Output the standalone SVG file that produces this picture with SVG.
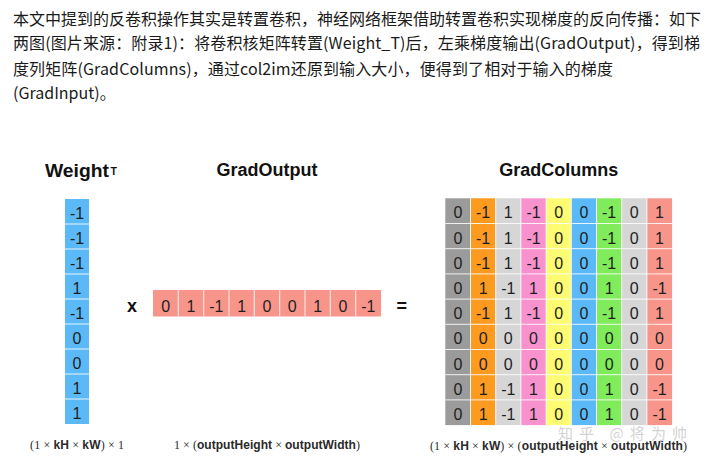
<svg xmlns="http://www.w3.org/2000/svg" width="711" height="472" viewBox="0 0 711 472">
<style>
.para{font-family:"Noto Sans CJK SC","Liberation Sans",sans-serif;font-size:16px;fill:#1a1a1a}
.title{font-family:"Liberation Sans",Arial,sans-serif;font-size:18px;font-weight:bold;fill:#111}
.num{font-family:"Liberation Sans",Arial,sans-serif;font-size:16px;fill:#1e1e1e;text-anchor:middle}
.op{font-family:"Liberation Sans",Arial,sans-serif;font-size:18px;font-weight:bold;fill:#111;text-anchor:middle}
.lab{font-family:"Liberation Serif","Times New Roman",serif;font-size:12px;fill:#2a2a2a}
.b{font-family:"Liberation Sans",Arial,sans-serif;font-weight:bold}
.sep{stroke:#fff;stroke-width:1;stroke-opacity:0.85}
.wm{font-family:"Noto Sans CJK SC",sans-serif;font-size:15px;fill:#c4c4c4;fill-opacity:0.75}
</style>
<rect width="711" height="472" fill="#fff"/>
<g id="paragraph">
<text class="para" x="13" y="25" textLength="688" lengthAdjust="spacing">本文中提到的反卷积操作其实是转置卷积，神经网络框架借助转置卷积实现梯度的反向传播：如下</text>
<text class="para" x="13" y="48.5" textLength="687" lengthAdjust="spacing">两图(图片来源：附录1)：将卷积核矩阵转置(Weight_T)后，左乘梯度输出(GradOutput)，得到梯</text>
<text class="para" x="13" y="74.5" textLength="600" lengthAdjust="spacing">度列矩阵(GradColumns)，通过col2im还原到输入大小，便得到了相对于输入的梯度</text>
<text class="para" x="13" y="99">(GradInput)。</text>
</g>
<g id="weight">
<text class="title" x="45" y="176.5" textLength="64" lengthAdjust="spacingAndGlyphs">Weight</text>
<text class="title" x="110.5" y="174.5" style="font-size:10.5px">T</text>
<rect x="65" y="199" width="24" height="225" fill="#5ab9f6"/>
<g class="sep">
<line x1="65" y1="224" x2="89" y2="224"/><line x1="65" y1="249" x2="89" y2="249"/><line x1="65" y1="274" x2="89" y2="274"/><line x1="65" y1="299" x2="89" y2="299"/><line x1="65" y1="324" x2="89" y2="324"/><line x1="65" y1="349" x2="89" y2="349"/><line x1="65" y1="374" x2="89" y2="374"/><line x1="65" y1="399" x2="89" y2="399"/>
</g>
<text class="num" x="77" y="219">-1</text>
<text class="num" x="77" y="244">-1</text>
<text class="num" x="77" y="269">-1</text>
<text class="num" x="77" y="294">1</text>
<text class="num" x="77" y="319">-1</text>
<text class="num" x="77" y="344">0</text>
<text class="num" x="77" y="369">0</text>
<text class="num" x="77" y="394">1</text>
<text class="num" x="77" y="419">1</text>
</g>
<g id="op-times"><text class="op" x="132" y="312">x</text></g>
<g id="gradoutput">
<text class="title" x="267" y="176" text-anchor="middle">GradOutput</text>
<rect x="153" y="290" width="228" height="26.5" fill="#f8958b"/>
<g class="sep">
<line x1="178.3" y1="290" x2="178.3" y2="316.5"/><line x1="203.7" y1="290" x2="203.7" y2="316.5"/><line x1="229" y1="290" x2="229" y2="316.5"/><line x1="254.3" y1="290" x2="254.3" y2="316.5"/><line x1="279.7" y1="290" x2="279.7" y2="316.5"/><line x1="305" y1="290" x2="305" y2="316.5"/><line x1="330.3" y1="290" x2="330.3" y2="316.5"/><line x1="355.7" y1="290" x2="355.7" y2="316.5"/>
</g>
<text class="num" y="311.5"><tspan x="165.7">0</tspan><tspan x="191">1</tspan><tspan x="216.3">-1</tspan><tspan x="241.7">1</tspan><tspan x="267">0</tspan><tspan x="292.3">0</tspan><tspan x="317.7">1</tspan><tspan x="343">0</tspan><tspan x="368.3">-1</tspan></text>
</g>
<g id="op-equals"><text class="op" x="401.7" y="312">=</text></g>
<g id="gradcolumns">
<text class="title" x="558.7" y="176" text-anchor="middle">GradColumns</text>
<rect x="445.3" y="198.3" width="25.2" height="226.8" fill="#9b9b9b"/>
<rect x="470.5" y="198.3" width="25.2" height="226.8" fill="#fd9b20"/>
<rect x="495.7" y="198.3" width="25.2" height="226.8" fill="#d6d6d6"/>
<rect x="520.9" y="198.3" width="25.2" height="226.8" fill="#f892cf"/>
<rect x="546.1" y="198.3" width="25.2" height="226.8" fill="#fdfc72"/>
<rect x="571.3" y="198.3" width="25.2" height="226.8" fill="#5ab9f6"/>
<rect x="596.5" y="198.3" width="25.2" height="226.8" fill="#80ec5c"/>
<rect x="621.7" y="198.3" width="25.2" height="226.8" fill="#d6d6d6"/>
<rect x="646.9" y="198.3" width="25.2" height="226.8" fill="#f8958b"/>
<g class="sep">
<line x1="445.3" y1="223.5" x2="672.1" y2="223.5"/><line x1="445.3" y1="248.7" x2="672.1" y2="248.7"/><line x1="445.3" y1="273.9" x2="672.1" y2="273.9"/><line x1="445.3" y1="299.1" x2="672.1" y2="299.1"/><line x1="445.3" y1="324.3" x2="672.1" y2="324.3"/><line x1="445.3" y1="349.5" x2="672.1" y2="349.5"/><line x1="445.3" y1="374.7" x2="672.1" y2="374.7"/><line x1="445.3" y1="399.9" x2="672.1" y2="399.9"/>
<line x1="470.5" y1="198.3" x2="470.5" y2="425.1"/><line x1="495.7" y1="198.3" x2="495.7" y2="425.1"/><line x1="520.9" y1="198.3" x2="520.9" y2="425.1"/><line x1="546.1" y1="198.3" x2="546.1" y2="425.1"/><line x1="571.3" y1="198.3" x2="571.3" y2="425.1"/><line x1="596.5" y1="198.3" x2="596.5" y2="425.1"/><line x1="621.7" y1="198.3" x2="621.7" y2="425.1"/><line x1="646.9" y1="198.3" x2="646.9" y2="425.1"/>
</g>
<text class="num" y="218.3"><tspan x="457.9">0</tspan><tspan x="483.1">-1</tspan><tspan x="508.3">1</tspan><tspan x="533.5">-1</tspan><tspan x="558.7">0</tspan><tspan x="583.9">0</tspan><tspan x="609.1">-1</tspan><tspan x="634.3">0</tspan><tspan x="659.5">1</tspan></text>
<text class="num" y="243.5"><tspan x="457.9">0</tspan><tspan x="483.1">-1</tspan><tspan x="508.3">1</tspan><tspan x="533.5">-1</tspan><tspan x="558.7">0</tspan><tspan x="583.9">0</tspan><tspan x="609.1">-1</tspan><tspan x="634.3">0</tspan><tspan x="659.5">1</tspan></text>
<text class="num" y="268.7"><tspan x="457.9">0</tspan><tspan x="483.1">-1</tspan><tspan x="508.3">1</tspan><tspan x="533.5">-1</tspan><tspan x="558.7">0</tspan><tspan x="583.9">0</tspan><tspan x="609.1">-1</tspan><tspan x="634.3">0</tspan><tspan x="659.5">1</tspan></text>
<text class="num" y="293.9"><tspan x="457.9">0</tspan><tspan x="483.1">1</tspan><tspan x="508.3">-1</tspan><tspan x="533.5">1</tspan><tspan x="558.7">0</tspan><tspan x="583.9">0</tspan><tspan x="609.1">1</tspan><tspan x="634.3">0</tspan><tspan x="659.5">-1</tspan></text>
<text class="num" y="319.1"><tspan x="457.9">0</tspan><tspan x="483.1">-1</tspan><tspan x="508.3">1</tspan><tspan x="533.5">-1</tspan><tspan x="558.7">0</tspan><tspan x="583.9">0</tspan><tspan x="609.1">-1</tspan><tspan x="634.3">0</tspan><tspan x="659.5">1</tspan></text>
<text class="num" y="344.3"><tspan x="457.9">0</tspan><tspan x="483.1">0</tspan><tspan x="508.3">0</tspan><tspan x="533.5">0</tspan><tspan x="558.7">0</tspan><tspan x="583.9">0</tspan><tspan x="609.1">0</tspan><tspan x="634.3">0</tspan><tspan x="659.5">0</tspan></text>
<text class="num" y="369.5"><tspan x="457.9">0</tspan><tspan x="483.1">0</tspan><tspan x="508.3">0</tspan><tspan x="533.5">0</tspan><tspan x="558.7">0</tspan><tspan x="583.9">0</tspan><tspan x="609.1">0</tspan><tspan x="634.3">0</tspan><tspan x="659.5">0</tspan></text>
<text class="num" y="394.7"><tspan x="457.9">0</tspan><tspan x="483.1">1</tspan><tspan x="508.3">-1</tspan><tspan x="533.5">1</tspan><tspan x="558.7">0</tspan><tspan x="583.9">0</tspan><tspan x="609.1">1</tspan><tspan x="634.3">0</tspan><tspan x="659.5">-1</tspan></text>
<text class="num" y="419.9"><tspan x="457.9">0</tspan><tspan x="483.1">1</tspan><tspan x="508.3">-1</tspan><tspan x="533.5">1</tspan><tspan x="558.7">0</tspan><tspan x="583.9">0</tspan><tspan x="609.1">1</tspan><tspan x="634.3">0</tspan><tspan x="659.5">-1</tspan></text>
</g>
<g id="labels">
<text class="lab" x="30" y="449" textLength="94" lengthAdjust="spacing">(1 × <tspan class="b">kH</tspan> × <tspan class="b">kW</tspan>) × 1</text>
<text class="lab" x="174" y="449" textLength="186" lengthAdjust="spacing">1 × (<tspan class="b">outputHeight</tspan> × <tspan class="b">outputWidth</tspan>)</text>
<text class="lab" x="430" y="450" textLength="257" lengthAdjust="spacing">(1 × <tspan class="b">kH</tspan> × <tspan class="b">kW</tspan>) × (<tspan class="b">outputHeight</tspan> × <tspan class="b">outputWidth</tspan>)</text>
</g>
<g id="watermark"><text class="wm" x="558" y="439" textLength="129" lengthAdjust="spacing">知乎 @将为帅</text></g>
</svg>
